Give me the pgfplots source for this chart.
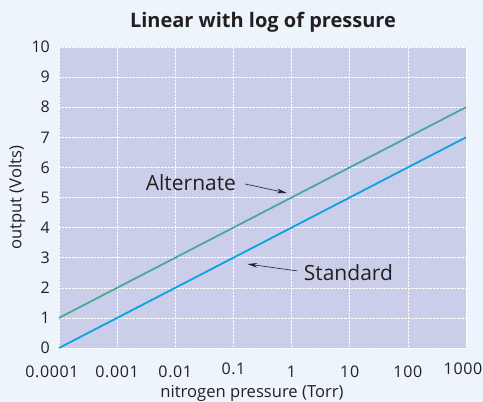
\documentclass[border=0pt]{standalone}
\usepackage{fontspec}
\setmainfont{Open Sans}
\newfontfamily\tickfont[LetterSpace=4]{Open Sans}
\usepackage{pgfplots}
\pgfplotsset{compat=1.18}
\usetikzlibrary{arrows.meta}

\definecolor{bgc}{HTML}{EEF4FB}
\definecolor{plotc}{HTML}{CACEE8}
\definecolor{altc}{HTML}{4AA89A}
\definecolor{stdc}{HTML}{0BA2E2}
\definecolor{txt}{HTML}{231F20}

\begin{document}
\begin{tikzpicture}
  \useasboundingbox (0,0) rectangle (483bp,402bp);
  \fill[bgc] (0,0) rectangle (483bp,402bp);
  \begin{axis}[
      at={(59bp,54bp)}, anchor=south west,
      width=407bp, height=301bp, scale only axis,
      xmode=log, xmin=1e-4, xmax=1000,
      ymin=0, ymax=10,
      xtick={1e-4,1e-3,1e-2,1e-1,1,10,100,1000},
      xticklabels={{\hspace{-14bp}0.0001\hspace{14bp}},0.001,0.01,\raisebox{3bp}{0.1},1,10,100,{\hspace{-6bp}\raisebox{3bp}{1000}\hspace{6bp}}},
      ytick={0,1,...,10},
      axis background/.style={fill=plotc},
      axis line style={draw=none},
      tick style={draw=none},
      major tick length=0pt, minor tick length=0pt,
      grid=major,
      major grid style={white, densely dotted, line width=0.6pt},
      /pgf/number format/assume math mode=true,
      xticklabel style={font=\fontsize{16bp}{18bp}\tickfont, text=txt, anchor=base, yshift=-29bp},
      yticklabel style={font=\fontsize{16bp}{18bp}\selectfont, text=txt, anchor=east, inner sep=0pt, xshift=-9bp},
      clip=false,
    ]
    \addplot[altc, line width=1.8pt] coordinates {(1e-4,1) (1000,8)};
    \addplot[stdc, line width=1.8pt] coordinates {(1e-4,0) (1000,7)};
    \node[font=\fontsize{21bp}{24bp}\selectfont, text=txt, anchor=base] at (axis cs:0.0186,5.22) {Alternate};
    \draw[-{Stealth[length=10bp,width=4.5bp]}, txt, line width=0.6pt] (axis cs:0.158,5.45) -- (axis cs:0.83,5.15);
    \node[font=\fontsize{21bp}{24bp}\selectfont, text=txt, anchor=base] at (axis cs:9.5,2.23) {Standard};
    \draw[-{Stealth[length=10bp,width=4.5bp]}, txt, line width=0.6pt] (axis cs:1.26,2.56) -- (axis cs:0.174,2.79);
  \end{axis}
  \node[font=\fontsize{20bp}{24bp}\selectfont\bfseries, text=txt, anchor=base] at (263bp,374bp) {Linear with log of pressure};
  \node[font=\fontsize{16.6bp}{19bp}\selectfont, text=txt, anchor=base] at (252bp,4.3bp) {nitrogen pressure (Torr)};
  \node[font=\fontsize{16.6bp}{19bp}\selectfont, text=txt, rotate=90] at (17bp,204bp) {output (Volts)};
\end{tikzpicture}
\end{document}
